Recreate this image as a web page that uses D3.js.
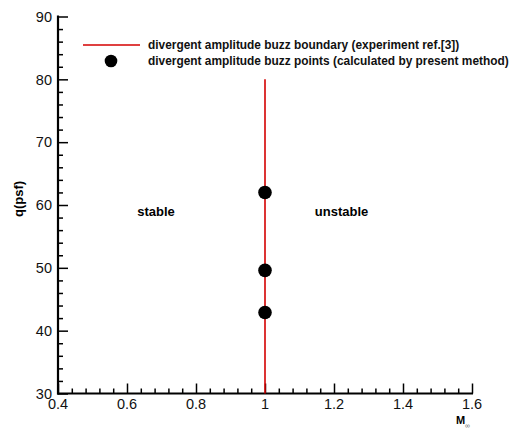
<!DOCTYPE html>
<html>
<head>
<meta charset="utf-8">
<script src="https://cdn.jsdelivr.net/npm/d3@7"></script>
<style>
  html, body { margin: 0; padding: 0; background: #fff; }
  svg { display: block; font-family: "Liberation Sans", Arial, sans-serif; }
</style>
</head>
<body>
<svg id="chart" width="520" height="429"></svg>
<script>
// Mach number axis
const xDomain = [0.4, 1.6];
const xMajorTicks = [0.4, 0.6, 0.8, 1.0, 1.2, 1.4, 1.6];
const xTickLabels = ["0.4", "0.6", "0.8", "1", "1.2", "1.4", "1.6"];
// dynamic pressure axis
const yDomain = [30, 90];
const yMajorTicks = [30, 40, 50, 60, 70, 80, 90];
const yTickLabels = ["30", "40", "50", "60", "70", "80", "90"];

// experimental buzz boundary (vertical line at M = 1)
const boundaryM = [1.0, 1.0];
const boundaryQ = [30, 80];

// calculated divergent amplitude buzz points
const pointM = [1.0, 1.0, 1.0];
const pointQ = [62.0, 49.6, 42.9];

const legendLabels = [
  "divergent amplitude buzz boundary (experiment ref.[3])",
  "divergent amplitude buzz points (calculated by present method)"
];
const regionLabels = ["stable", "unstable"];
const regionM = [0.684, 1.222];
const regionQ = [58.25, 58.25];

const svg = d3.select("#chart");
const plotLeft = 58, plotRight = 472, plotTop = 16.5, plotBottom = 393.5;

const x = d3.scaleLinear().domain(xDomain).range([plotLeft, plotRight]);
const y = d3.scaleLinear().domain(yDomain).range([plotBottom, plotTop]);

const xMinor = d3.range(0, 31).map(i => 0.4 + i * 0.04).filter(v => !xMajorTicks.some(t => Math.abs(t - v) < 1e-6));
const yMinor = d3.range(0, 31).map(i => 30 + i * 2).filter(v => !yMajorTicks.some(t => Math.abs(t - v) < 1e-6));

// x axis: ticks point inward (upward)
const xAxis = svg.append("g").attr("transform", `translate(0,${plotBottom})`);
xAxis.call(d3.axisTop(x).tickValues(xMajorTicks).tickSize(10).tickFormat(""));
xAxis.append("g").call(d3.axisTop(x).tickValues(xMinor).tickSize(5).tickFormat(""));
xAxis.selectAll(".domain").remove();
xAxis.selectAll(".tick text").remove();
xAxis.selectAll("line").attr("stroke", "#000").attr("stroke-width", 1.5);
xAxis.append("line").attr("x1", plotLeft - 1).attr("x2", plotRight + 1).attr("y1", 0).attr("y2", 0)
  .attr("stroke", "#000").attr("stroke-width", 2.2);
xAxis.selectAll(".xlab").data(xMajorTicks).enter().append("text")
  .attr("x", d => x(d)).attr("y", 15.5)
  .attr("text-anchor", "middle").attr("font-size", 14.5).attr("fill", "#111")
  .text((d, i) => xTickLabels[i]);

// y axis: ticks point inward (right)
const yAxis = svg.append("g").attr("transform", `translate(${plotLeft},0)`);
yAxis.call(d3.axisRight(y).tickValues(yMajorTicks).tickSize(10).tickFormat(""));
yAxis.append("g").call(d3.axisRight(y).tickValues(yMinor).tickSize(5).tickFormat(""));
yAxis.selectAll(".domain").remove();
yAxis.selectAll(".tick text").remove();
yAxis.selectAll("line").attr("stroke", "#000").attr("stroke-width", 1.5);
yAxis.append("line").attr("x1", 0).attr("x2", 0).attr("y1", plotTop - 1).attr("y2", plotBottom + 1)
  .attr("stroke", "#000").attr("stroke-width", 2.2);
yAxis.selectAll(".ylab").data(yMajorTicks).enter().append("text")
  .attr("x", -6).attr("y", d => y(d)).attr("dy", "0.36em")
  .attr("text-anchor", "end").attr("font-size", 14.5).attr("fill", "#111")
  .text((d, i) => yTickLabels[i]);

// axis titles
svg.append("text")
  .attr("transform", "translate(23,199) rotate(-90)")
  .attr("text-anchor", "middle").attr("font-size", 13).attr("font-weight", "bold")
  .text("q(psf)");
svg.append("text").attr("x", 456).attr("y", 423.5)
  .attr("font-size", 11).attr("font-weight", "bold").text("M");
svg.append("text").attr("x", 465).attr("y", 428)
  .attr("font-size", 7).attr("fill", "#666").text("∞");

// boundary line
const line = d3.line().x(d => x(d[0])).y(d => y(d[1]));
svg.append("path")
  .datum(boundaryM.map((m, i) => [m, boundaryQ[i]]))
  .attr("d", line).attr("stroke", "#d40000").attr("stroke-width", 1.6).attr("fill", "none");

// calculated points
svg.selectAll(".pt").data(pointM.map((m, i) => [m, pointQ[i]])).enter().append("circle")
  .attr("cx", d => x(d[0])).attr("cy", d => y(d[1])).attr("r", 6.8).attr("fill", "#000");

// region labels
svg.selectAll(".region").data(regionLabels).enter().append("text")
  .attr("x", (d, i) => x(regionM[i])).attr("y", (d, i) => y(regionQ[i]))
  .attr("text-anchor", "middle").attr("font-size", 13).attr("font-weight", "bold")
  .text(d => d);

// legend
const lg = svg.append("g");
lg.append("line").attr("x1", 83).attr("x2", 140).attr("y1", 45).attr("y2", 45)
  .attr("stroke", "#d40000").attr("stroke-width", 1.6);
lg.append("circle").attr("cx", 111).attr("cy", 61).attr("r", 6.3).attr("fill", "#000");
lg.selectAll(".lt").data(legendLabels).enter().append("text")
  .attr("x", 148).attr("y", (d, i) => 45 + i * 16).attr("dy", "0.36em")
  .attr("font-size", 11.9).attr("font-weight", "bold").attr("fill", "#111")
  .text(d => d);
</script>
</body>
</html>
